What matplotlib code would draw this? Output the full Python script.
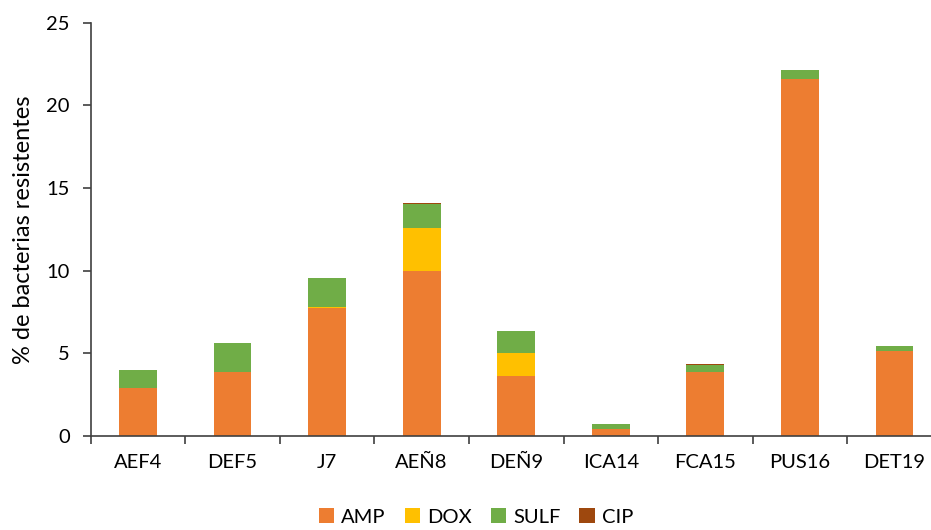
import numpy as np
import matplotlib.pyplot as plt
from matplotlib.ticker import FixedLocator

# Percent of resistant bacteria per sample, stacked by antibiotic
samples = ['AEF4', 'DEF5', 'J7', 'AEÑ8', 'DEÑ9', 'ICA14', 'FCA15', 'PUS16', 'DET19']
amp = [2.9, 3.9, 7.72, 10.0, 3.65, 0.44, 3.85, 21.58, 5.16]
dox = [0.0, 0.0, 0.07, 2.56, 1.37, 0.0, 0.0, 0.0, 0.0]
sulf = [1.1, 1.73, 1.77, 1.5, 1.3, 0.27, 0.47, 0.55, 0.26]
cip = [0.0, 0.0, 0.02, 0.02, 0.02, 0.02, 0.03, 0.03, 0.03]

colors = {'AMP': '#ED7D31', 'DOX': '#FFC000', 'SULF': '#70AD47', 'CIP': '#9E480E'}

plt.rcParams['font.family'] = ['Lato', 'DejaVu Sans']

fig = plt.figure(figsize=(9.31, 5.30), dpi=100)
ax = fig.add_axes([0.0974, 0.1774, 0.9142, 0.7798])

x = np.arange(len(samples))
bottom = np.zeros(len(samples))
for name, vals in [('AMP', amp), ('DOX', dox), ('SULF', sulf), ('CIP', cip)]:
    ax.bar(x, vals, width=0.4, bottom=bottom, color=colors[name], label=name,
           edgecolor='none')
    bottom += np.array(vals)

ax.set_xlim(-0.5, len(samples) - 0.5)
ax.set_ylim(0, 25)
ax.set_yticks([0, 5, 10, 15, 20, 25])
ax.set_xticks(x)
ax.set_xticklabels(samples)
ax.xaxis.set_minor_locator(FixedLocator(np.arange(-0.5, len(samples), 1)))
ax.tick_params(axis='x', which='major', length=0, pad=13, labelsize=14.5, colors='#000000')
ax.tick_params(axis='x', which='minor', length=6, width=1.2, color='#404040')
ax.tick_params(axis='y', length=6, width=1.2, color='#404040', labelsize=14.5, pad=9)

for s in ['top', 'right']:
    ax.spines[s].set_visible(False)
for s in ['left', 'bottom']:
    ax.spines[s].set_color('#404040')
    ax.spines[s].set_linewidth(1.2)

ax.set_ylabel('% de bacterias resistentes', fontsize=17, labelpad=9)

fig.legend(loc='center', bbox_to_anchor=(476 / 931, 13 / 530), ncol=4,
           frameon=False, fontsize=14.5, handlelength=0.75, handleheight=0.75,
           handletextpad=0.35, columnspacing=0.95, borderpad=0)

fig.savefig('out.png', dpi=100)
